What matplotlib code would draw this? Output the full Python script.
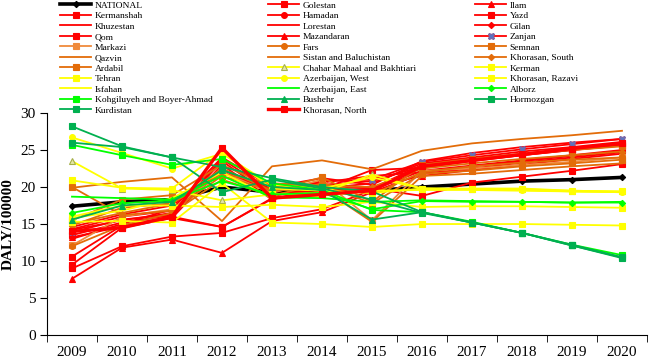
import matplotlib.pyplot as plt
import numpy as np

plt.rcParams['font.family'] = ['Liberation Serif', 'DejaVu Serif']

years = ['2009', '2010', '2011', '2012', '2013', '2014',
         '2015', '2016', '2017', '2018', '2019', '2020']

# DALY per 100000, one list per province
national = [17.4, 18.0, 18.3, 20.0, 19.3, 19.6, 19.5, 20.0, 20.4, 20.8, 21.0, 21.3]
golestan = [9.0, 12.0, 13.3, 13.8, 15.8, 17.0, 19.6, 22.2, 22.9, 23.6, 24.3, 25.0]
ilam = [13.2, 14.7, 15.8, 23.0, 18.3, 20.0, 20.0, 21.5, 22.3, 23.0, 23.8, 24.5]
kermanshah = [9.5, 14.5, 15.8, 14.6, 18.5, 19.3, 19.8, 18.8, 20.6, 21.4, 22.2, 23.1]
hamadan = [14.2, 15.5, 16.5, 22.5, 19.0, 19.8, 20.5, 23.2, 24.0, 24.8, 25.4, 26.1]
yazd = [13.5, 15.2, 16.2, 23.5, 18.8, 19.7, 22.3, 22.6, 23.5, 24.3, 25.0, 25.7]
khuzestan = [13.0, 15.0, 17.0, 24.0, 20.0, 21.2, 20.3, 23.5, 24.6, 25.4, 26.0, 26.5]
lorestan = [14.6, 16.3, 17.5, 22.3, 19.8, 20.6, 21.5, 22.0, 22.8, 23.5, 24.2, 24.9]
gilan = [14.3, 16.0, 16.8, 22.0, 19.6, 20.3, 20.8, 22.8, 23.6, 24.3, 25.0, 25.6]
qom = [10.6, 14.8, 16.0, 14.6, 18.4, 19.5, 19.8, 23.0, 23.8, 24.5, 25.2, 25.9]
mazandaran = [7.6, 11.8, 12.9, 11.1, 15.4, 16.6, 19.3, 21.8, 22.5, 23.3, 24.0, 24.7]
zanjan = [13.9, 15.6, 16.3, 23.8, 19.3, 20.8, 21.0, 23.4, 24.3, 25.1, 25.8, 26.5]
markazi = [12.1, 16.0, 17.0, 22.0, 19.2, 21.0, 15.5, 22.2, 22.5, 23.0, 23.4, 24.0]
fars = [12.0, 14.8, 16.5, 21.0, 18.8, 20.5, 19.0, 22.0, 22.8, 23.3, 23.7, 24.0]
semnan = [20.0, 16.2, 16.8, 21.5, 19.5, 21.3, 18.0, 23.0, 23.8, 24.5, 25.0, 25.5]
qazvin = [19.9, 20.7, 21.3, 15.4, 22.8, 23.6, 22.4, 24.9, 25.9, 26.5, 27.0, 27.6]
sistan = [15.0, 16.5, 17.8, 22.5, 19.5, 19.8, 15.3, 21.5, 21.8, 22.3, 22.8, 23.2]
khorasan_south = [14.8, 17.2, 17.8, 21.8, 20.5, 20.2, 20.0, 22.5, 23.2, 23.8, 24.3, 24.8]
ardabil = [15.5, 18.3, 18.9, 23.0, 20.0, 20.3, 17.8, 21.8, 22.2, 22.8, 23.2, 23.7]
chahar = [23.5, 19.8, 19.6, 18.2, 19.0, 19.2, 21.7, 19.8, 19.7, 19.7, 19.5, 19.4]
kerman = [20.9, 19.9, 19.8, 24.8, 19.8, 19.5, 19.2, 19.8, 19.8, 19.8, 19.5, 19.4]
tehran = [16.0, 17.5, 17.5, 17.3, 17.6, 17.3, 18.0, 17.3, 17.4, 17.4, 17.3, 17.2]
azerbaijan_west = [26.7, 24.6, 22.5, 24.5, 20.3, 19.8, 21.3, 19.8, 19.7, 19.6, 19.4, 19.3]
khorasan_razavi = [15.3, 15.4, 15.2, 20.5, 15.2, 15.0, 14.6, 15.0, 15.0, 15.0, 14.9, 14.8]
isfahan = [15.8, 16.8, 18.5, 22.0, 18.5, 18.8, 19.5, 19.6, 19.6, 19.5, 19.4, 19.3]
azerbaijan_east = [18.7, 18.5, 18.3, 21.5, 18.6, 18.5, 18.0, 18.2, 18.1, 18.0, 17.9, 18.0]
alborz = [16.5, 17.8, 18.2, 20.8, 19.0, 19.2, 17.0, 18.1, 18.0, 18.0, 17.9, 17.9]
kohgiluyeh = [25.7, 24.3, 23.0, 23.8, 20.5, 19.6, 16.9, 16.6, 15.3, 13.8, 12.2, 10.8]
bushehr = [15.6, 17.5, 18.0, 22.3, 20.0, 19.6, 15.6, 16.6, 15.2, 13.8, 12.1, 10.5]
hormozgan = [26.0, 25.4, 24.0, 19.3, 21.0, 19.8, 18.3, 16.5, 15.2, 13.8, 12.1, 10.4]
kurdistan = [28.2, 25.5, 24.0, 22.7, 21.2, 20.0, 19.4, 16.6, 15.2, 13.8, 12.2, 10.5]
khorasan_north = [14.0, 14.5, 16.0, 25.3, 18.5, 19.0, 19.5, 22.8, 23.6, 24.4, 25.2, 25.9]

RED = '#FF0000'
ORANGE = '#E36C09'
LORANGE = '#F08A3C'
YELLOW = '#FFFF00'
LGREEN = '#00FF00'
DGREEN = '#00B050'

# (label, values, color, marker, line width)
series = [
    ('NATIONAL', national, 'black', 'D', 2.6),
    ('Golestan', golestan, RED, 's', 1.3),
    ('Ilam', ilam, RED, '^', 1.3),
    ('Kermanshah', kermanshah, RED, 's', 1.3),
    ('Hamadan', hamadan, RED, 'o', 1.3),
    ('Yazd', yazd, RED, 's', 1.3),
    ('Khuzestan', khuzestan, RED, '', 1.3),
    ('Lorestan', lorestan, RED, '', 1.3),
    ('Gilan', gilan, RED, 'D', 1.3),
    ('Qom', qom, RED, 's', 1.3),
    ('Mazandaran', mazandaran, RED, '^', 1.3),
    ('Zanjan', zanjan, RED, 'X', 1.3),
    ('Markazi', markazi, LORANGE, 's', 1.3),
    ('Fars', fars, ORANGE, 'o', 1.3),
    ('Semnan', semnan, ORANGE, 's', 1.3),
    ('Qazvin', qazvin, ORANGE, '', 1.3),
    ('Sistan and Baluchistan', sistan, ORANGE, '', 1.3),
    ('Khorasan, South', khorasan_south, ORANGE, 'D', 1.3),
    ('Ardabil', ardabil, ORANGE, 's', 1.3),
    ('Chahar Mahaal and Bakhtiari', chahar, YELLOW, '^', 1.3),
    ('Kerman', kerman, YELLOW, 's', 1.3),
    ('Tehran', tehran, YELLOW, 's', 1.3),
    ('Azerbaijan, West', azerbaijan_west, YELLOW, 'o', 1.3),
    ('Khorasan, Razavi', khorasan_razavi, YELLOW, 's', 1.3),
    ('Isfahan', isfahan, YELLOW, '', 1.3),
    ('Azerbaijan, East', azerbaijan_east, LGREEN, '', 1.3),
    ('Alborz', alborz, LGREEN, 'D', 1.3),
    ('Kohgiluyeh and Boyer-Ahmad', kohgiluyeh, LGREEN, 's', 1.3),
    ('Bushehr', bushehr, DGREEN, '^', 1.3),
    ('Hormozgan', hormozgan, DGREEN, 's', 1.3),
    ('Kurdistan', kurdistan, DGREEN, 's', 1.3),
    ('Khorasan, North', khorasan_north, RED, 's', 2.4),
]

fig = plt.figure(figsize=(6.49, 3.6), dpi=100)
ax = fig.add_axes([0.0724, 0.0694, 0.9245, 0.6166])

x = np.arange(len(years))
handles = []
for label, vals, color, marker, lw in series:
    ms = 4.2
    mfc = color
    mec = color
    if marker == 'D':
        ms = 3.2
    if label == 'Chahar Mahaal and Bakhtiari':
        mfc, mec = '#E4E6A6', '#A5B04A'
    if label == 'Zanjan':
        mfc, mec, ms = '#5B74C0', '#8064A2', 4.5
    h, = ax.plot(x, vals, color=color, lw=lw, marker=marker or None,
                 markersize=ms, markerfacecolor=mfc, markeredgecolor=mec,
                 markeredgewidth=0.8, label=label)
    handles.append(h)

ax.set_xlim(-0.5, 11.5)
ax.set_ylim(0, 30)
ax.set_yticks(range(0, 31, 5))
ax.set_xticks(x)
ax.set_xticklabels(years)
ax.set_xticks(np.arange(-0.5, 12, 1), minor=True)
ax.tick_params(axis='x', which='major', length=0, labelsize=11, pad=8)
ax.tick_params(axis='x', which='minor', length=5, direction='out')
ax.tick_params(axis='y', length=5, direction='out', labelsize=11, pad=3)
ax.spines['top'].set_visible(False)
ax.spines['right'].set_visible(False)
ax.set_ylabel('DALY/100000', fontsize=11, fontweight='bold', labelpad=4)

# legend in three equal-width columns, filled row by row like the source
col_x = [0.0925, 0.413, 0.732]
for i, cx in enumerate(col_x):
    hs = handles[i::3]
    fig.legend(hs, [h.get_label() for h in hs], loc='upper left',
               bbox_to_anchor=(cx, 0.997), frameon=False, fontsize=6.8,
               handlelength=3.3, handletextpad=0.35, labelspacing=0.2,
               borderpad=0, borderaxespad=0)

fig.savefig('out.png', dpi=100)
